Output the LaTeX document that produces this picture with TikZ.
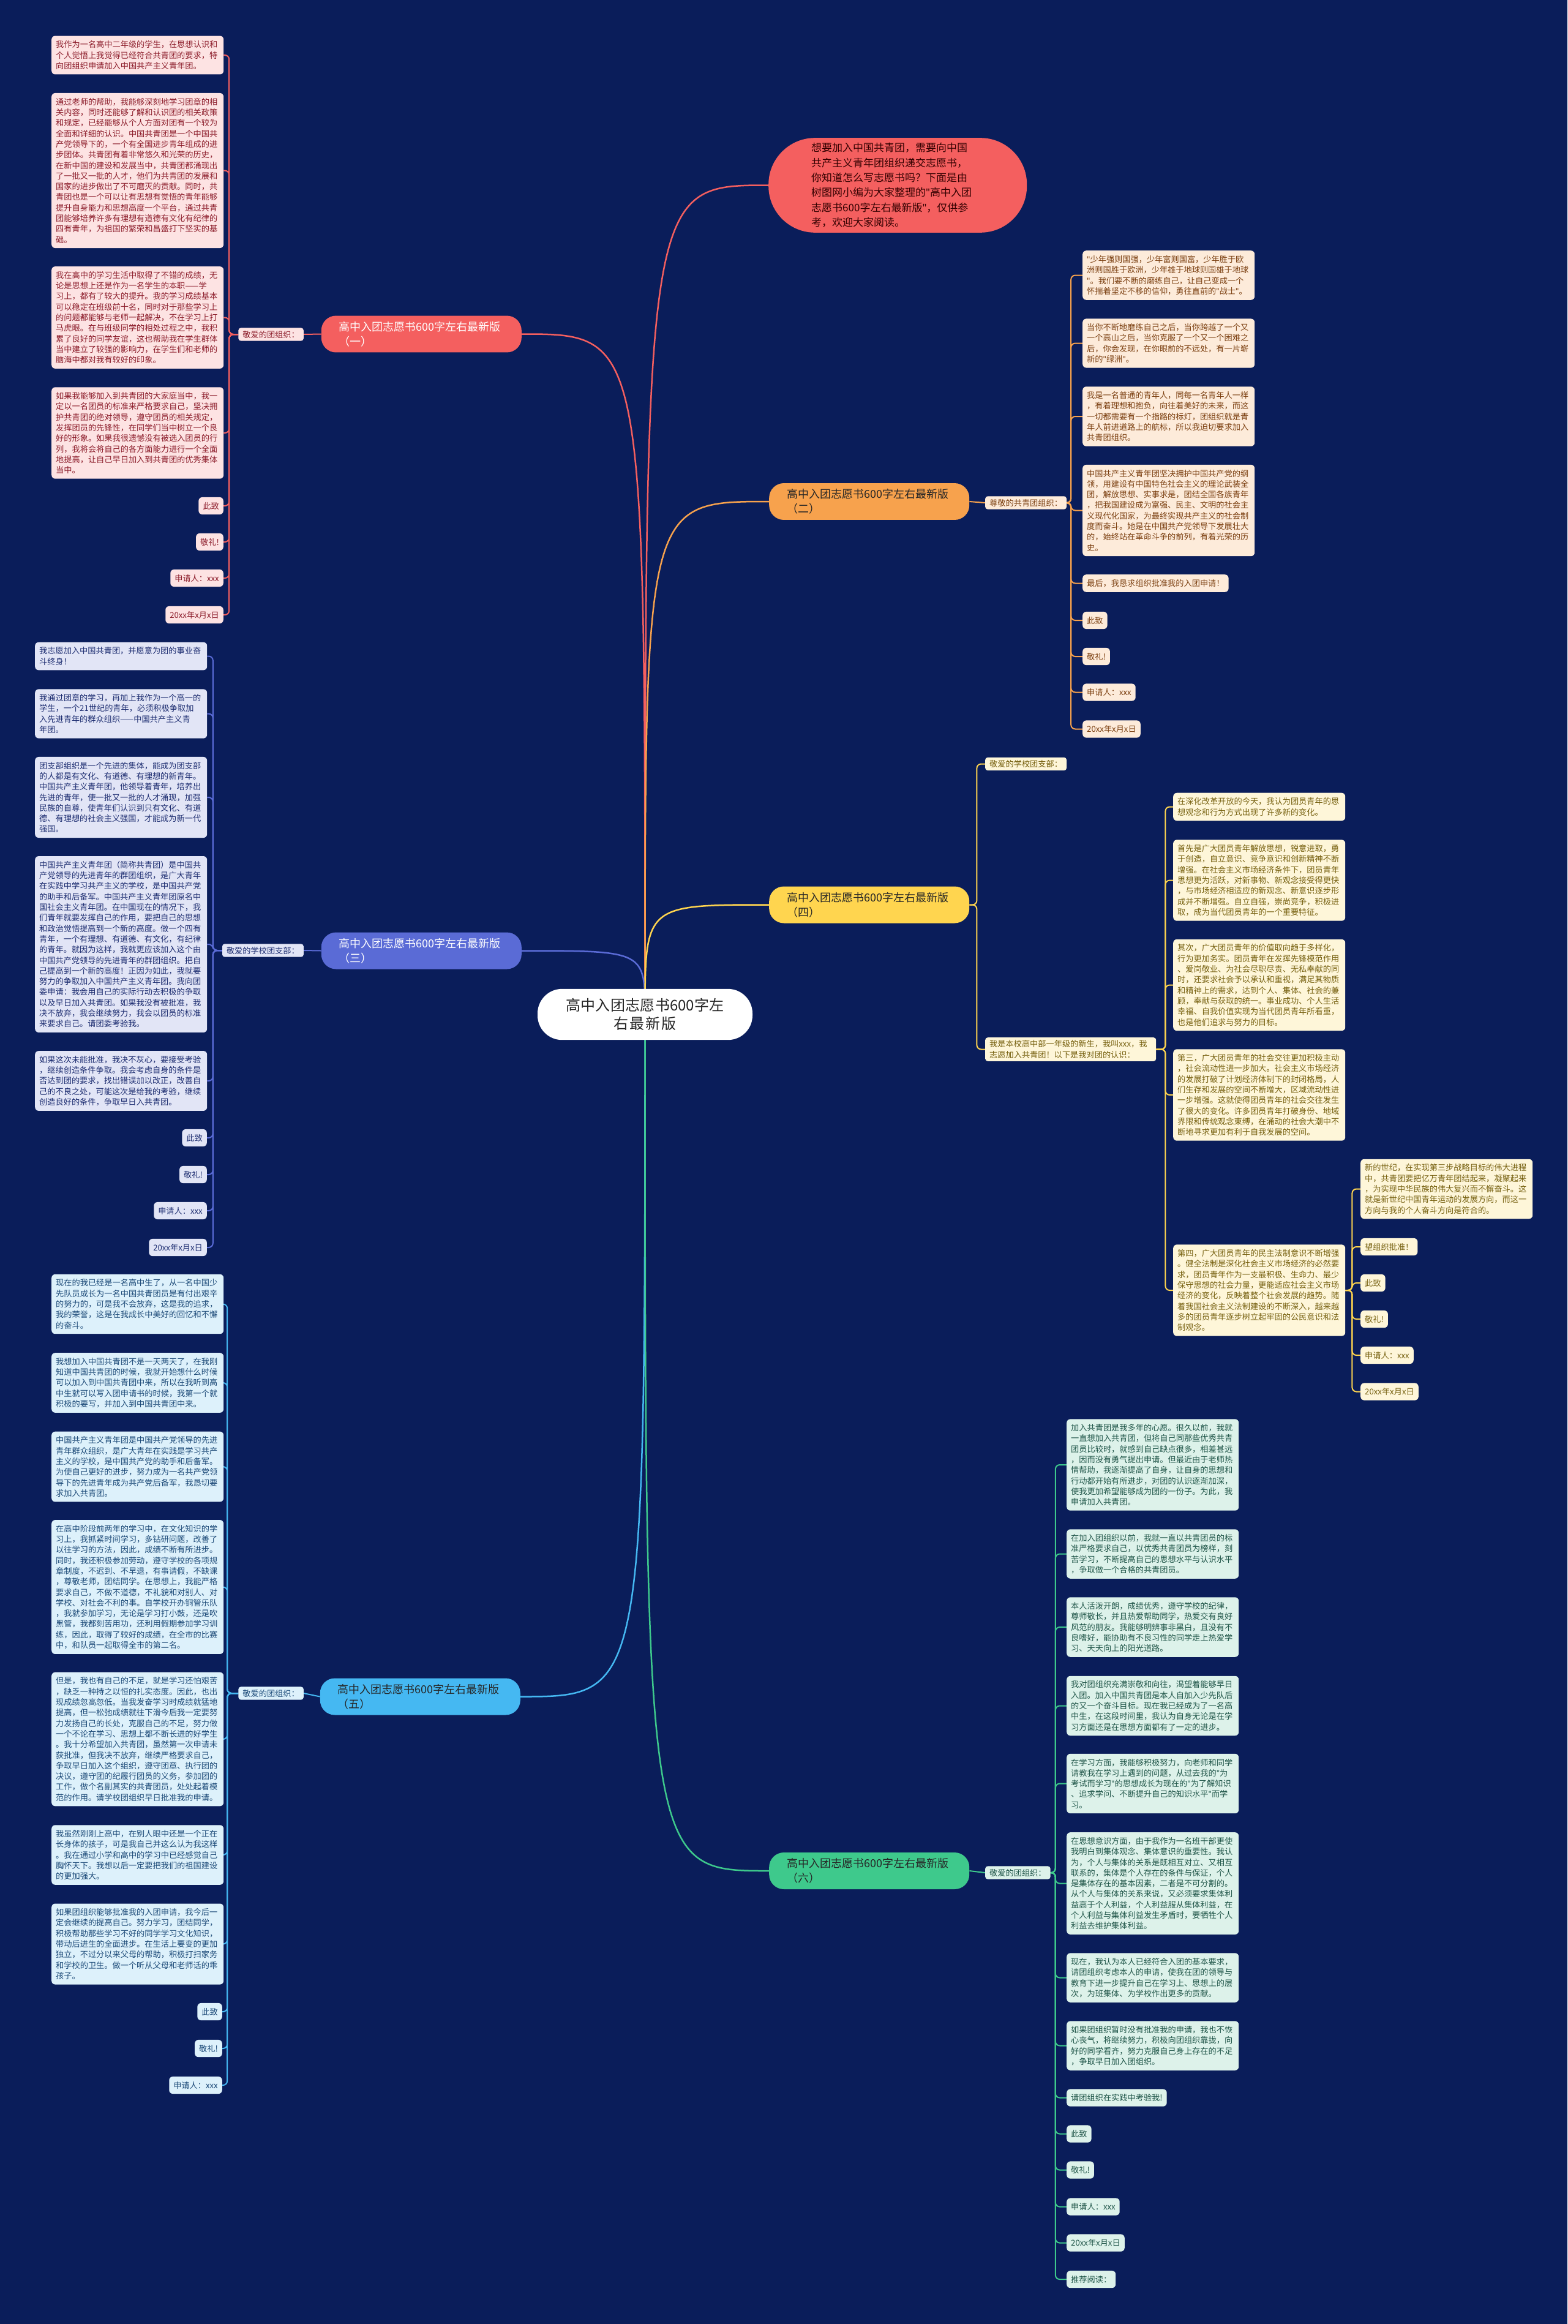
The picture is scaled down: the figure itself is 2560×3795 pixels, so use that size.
\documentclass[tikz,border=0pt]{standalone}
\usepackage{fontspec}
\setmainfont{Noto Sans CJK SC}
\newfontfamily\qfont{Noto Sans}
\newcommand\qq{{\qfont"}}
\XeTeXlinebreaklocale "zh"
\XeTeXlinebreakskip = 0pt plus 1pt
\usetikzlibrary{backgrounds}
\newcommand\fleaf{\fontsize{13.2pt}{17.3pt}\selectfont}
\newcommand\fbranch{\fontsize{18pt}{24pt}\selectfont}
\newcommand\froot{\fontsize{24pt}{30pt}\selectfont}
\newcommand\fintro{\fontsize{17pt}{24.3pt}\selectfont}
\definecolor{cBG}{HTML}{0A1D5A}
\definecolor{cRed}{HTML}{F45F5F}
\definecolor{cOra}{HTML}{F7A24D}
\definecolor{cBlu}{HTML}{5A6BD6}
\definecolor{cYel}{HTML}{FFD54F}
\definecolor{cSky}{HTML}{45B8F2}
\definecolor{cGrn}{HTML}{3EC98C}
\definecolor{pkF}{HTML}{FDE3E3}\definecolor{pkT}{HTML}{8C1C2A}
\definecolor{lvF}{HTML}{E2E5F6}\definecolor{lvT}{HTML}{1C2C70}
\definecolor{peF}{HTML}{FDEBDA}\definecolor{peT}{HTML}{7B3F10}
\definecolor{yeF}{HTML}{FEF6D9}\definecolor{yeT}{HTML}{76600F}
\definecolor{skF}{HTML}{DDF1FB}\definecolor{skT}{HTML}{1C4A78}
\definecolor{mnF}{HTML}{DDF2EA}\definecolor{mnT}{HTML}{1F5548}
\tikzset{
  leaf/.style={rounded corners=6pt, inner xsep=7pt, inner ysep=8pt, align=left, font=\fleaf},
  wide/.style={leaf, text width=267pt},
  lab/.style={rounded corners=4pt, inner xsep=7pt, inner ysep=4.5pt, align=left, font=\fleaf},
  branch/.style={rounded corners=24pt, font=\fbranch, align=left, text width=269pt, inner xsep=29pt, inner ysep=9.5pt},
  pk/.style={fill=pkF, text=pkT},
  lv/.style={fill=lvF, text=lvT},
  pe/.style={fill=peF, text=peT},
  ye/.style={fill=yeF, text=yeT},
  sk/.style={fill=skF, text=skT},
  mn/.style={fill=mnF, text=mnT},
  conn/.style={line width=2pt, rounded corners=7pt},
  curve/.style={line width=2.5pt},
}
\begin{document}
\begin{tikzpicture}[x=1pt,y=-1pt]
\useasboundingbox (0,0) rectangle (2560,3795);
% ---------- root and branches ----------
\node[fill=white, text=black!85, rounded corners=40pt, font=\froot, align=center, text width=290pt, inner xsep=30.5pt, inner ysep=15.5pt] (root) at (1053.5,1656.5) {高中入团志愿书600字左\\右最新版};
\node[fill=cRed, text=black!80!red, rounded corners=76pt, font=\fintro, align=left, text width=282pt, inner xsep=70pt, inner ysep=8.5pt, anchor=west] (intro) at (1255,302.5) {想要加入中国共青团，需要向中国\\共产主义青年团组织递交志愿书，\\你知道怎么写志愿书吗？下面是由\\树图网小编为大家整理的\qq{}高中入团\\志愿书600字左右最新版\qq{}，仅供参\\考，欢迎大家阅读。};
\node[branch, fill=cRed, text=white, anchor=east] (n1) at (852,545.5) {高中入团志愿书600字左右最新版\\（一）};
\node[branch, fill=cOra, text=black!85, anchor=west] (n2) at (1256,819) {高中入团志愿书600字左右最新版\\（二）};
\node[branch, fill=cBlu, text=white, anchor=east] (n3) at (852,1552.5) {高中入团志愿书600字左右最新版\\（三）};
\node[branch, fill=cYel, text=black!85, anchor=west] (n4) at (1256,1477.5) {高中入团志愿书600字左右最新版\\（四）};
\node[branch, fill=cSky, text=black!85, anchor=east] (n5) at (850,2770.5) {高中入团志愿书600字左右最新版\\（五）};
\node[branch, fill=cGrn, text=black!85, anchor=west] (n6) at (1256,3055) {高中入团志愿书600字左右最新版\\（六）};
% ---------- labels ----------
\node[lab, pk, anchor=east] (L1) at (496,546) {敬爱的团组织：};
\node[lab, pe, anchor=west] (L2) at (1609,821) {尊敬的共青团组织：};
\node[lab, lv, anchor=east] (L3) at (496,1552) {敬爱的学校团支部：};
\node[lab, ye, anchor=west] (L4a) at (1609,1247.5) {敬爱的学校团支部：};
\node[lab, ye, anchor=west, text width=265pt] (L4b) at (1609,1713.5) {我是本校高中部一年级的新生，我叫xxx，我\\志愿加入共青团！以下是我对团的认识：};
\node[lab, sk, anchor=east] (L5) at (496,2765) {敬爱的团组织：};
\node[lab, mn, anchor=west] (L6) at (1609,3058) {敬爱的团组织：};
% ---------- (一) ----------
\node[wide, pk, anchor=west] (b1) at (84,90) {我作为一名高中二年级的学生，在思想认识和\\个人觉悟上我觉得已经符合共青团的要求，特\\向团组织申请加入中国共产主义青年团。};
\node[wide, pk, anchor=west] (b2) at (84,278.5) {通过老师的帮助，我能够深刻地学习团章的相\\关内容，同时还能够了解和认识团的相关政策\\和规定，已经能够从个人方面对团有一个较为\\全面和详细的认识。中国共青团是一个中国共\\产党领导下的，一个有全国进步青年组成的进\\步团体。共青团有着非常悠久和光荣的历史，\\在新中国的建设和发展当中，共青团都涌现出\\了一批又一批的人才，他们为共青团的发展和\\国家的进步做出了不可磨灭的贡献。同时，共\\青团也是一个可以让有思想有觉悟的青年能够\\提升自身能力和思想高度一个平台，通过共青\\团能够培养许多有理想有道德有文化有纪律的\\四有青年，为祖国的繁荣和昌盛打下坚实的基\\础。};
\node[wide, pk, anchor=west] (b3) at (84,518.5) {我在高中的学习生活中取得了不错的成绩，无\\论是思想上还是作为一名学生的本职——学\\习上，都有了较大的提升。我的学习成绩基本\\可以稳定在班级前十名，同时对于那些学习上\\的问题都能够与老师一起解决，不在学习上打\\马虎眼。在与班级同学的相处过程之中，我积\\累了良好的同学友谊，这也帮助我在学生群体\\当中建立了较强的影响力，在学生们和老师的\\脑海中都对我有较好的印象。};
\node[wide, pk, anchor=west] (b4) at (84,707) {如果我能够加入到共青团的大家庭当中，我一\\定以一名团员的标准来严格要求自己，坚决拥\\护共青团的绝对领导，遵守团员的相关规定，\\发挥团员的先锋性，在同学们当中树立一个良\\好的形象。如果我很遗憾没有被选入团员的行\\列，我将会将自己的各方面能力进行一个全面\\地提高，让自己早日加入到共青团的优秀集体\\当中。};
\node[leaf, pk, anchor=east] (b5) at (365,826) {此致};
\node[leaf, pk, anchor=east] (b6) at (365,885) {敬礼!};
\node[leaf, pk, anchor=east] (b7) at (365,944) {申请人：xxx};
\node[leaf, pk, anchor=east] (b8) at (365,1004) {20xx年x月x日};
% ---------- (三) ----------
\node[wide, lv, anchor=west] (d1) at (57,1071.5) {我志愿加入中国共青团，并愿意为团的事业奋\\斗终身！};
\node[wide, lv, anchor=west] (d2) at (57,1165.5) {我通过团章的学习，再加上我作为一个高一的\\学生，一个21世纪的青年，必须积极争取加\\入先进青年的群众组织——中国共产主义青\\年团。};
\node[wide, lv, anchor=west] (d3) at (57,1302) {团支部组织是一个先进的集体，能成为团支部\\的人都是有文化、有道德、有理想的新青年。\\中国共产主义青年团，他领导着青年，培养出\\先进的青年，使一批又一批的人才涌现，加强\\民族的自尊，使青年们认识到只有文化、有道\\德、有理想的社会主义强国，才能成为新一代\\强国。};
\node[wide, lv, anchor=west] (d4) at (57,1542) {中国共产主义青年团（简称共青团）是中国共\\产党领导的先进青年的群团组织，是广大青年\\在实践中学习共产主义的学校，是中国共产党\\的助手和后备军。中国共产主义青年团原名中\\国社会主义青年团。在中国现在的情况下，我\\们青年就要发挥自己的作用，要把自己的思想\\和政治觉悟提高到一个新的高度。做一个四有\\青年，一个有理想、有道德、有文化，有纪律\\的青年。就因为这样，我就更应该加入这个由\\中国共产党领导的先进青年的群团组织。把自\\己提高到一个新的高度！正因为如此，我就要\\努力的争取加入中国共产主义青年团。我向团\\委申请：我会用自己的实际行动去积极的争取\\以及早日加入共青团。如果我没有被批准，我\\决不放弃，我会继续努力，我会以团员的标准\\来要求自己。请团委考验我。};
\node[wide, lv, anchor=west] (d5) at (57,1765) {如果这次未能批准，我决不灰心，要接受考验\\，继续创造条件争取。我会考虑自身的条件是\\否达到团的要求，找出错误加以改正，改善自\\己的不良之处，可能这次是给我的考验，继续\\创造良好的条件，争取早日入共青团。};
\node[leaf, lv, anchor=east] (d6) at (338,1858) {此致};
\node[leaf, lv, anchor=east] (d7) at (338,1918) {敬礼!};
\node[leaf, lv, anchor=east] (d8) at (338,1977) {申请人：xxx};
\node[leaf, lv, anchor=east] (d9) at (338,2037) {20xx年x月x日};
% ---------- (五) ----------
\node[wide, sk, anchor=west] (e1) at (84,2129.5) {现在的我已经是一名高中生了，从一名中国少\\先队员成长为一名中国共青团员是有付出艰辛\\的努力的，可是我不会放弃，这是我的追求，\\我的荣誉，这是在我成长中美好的回忆和不懈\\的奋斗。};
\node[wide, sk, anchor=west] (e2) at (84,2258) {我想加入中国共青团不是一天两天了，在我刚\\知道中国共青团的时候，我就开始想什么时候\\可以加入到中国共青团中来，所以在我听到高\\中生就可以写入团申请书的时候，我第一个就\\积极的要写，并加入到中国共青团中来。};
\node[wide, sk, anchor=west] (e3) at (84,2395) {中国共产主义青年团是中国共产党领导的先进\\青年群众组织，是广大青年在实践是学习共产\\主义的学校，是中国共产党的助手和后备军。\\为使自己更好的进步，努力成为一名共产党领\\导下的先进青年成为共产党后备军，我恳切要\\求加入共青团。};
\node[wide, sk, anchor=west] (e4) at (84,2591.5) {在高中阶段前两年的学习中，在文化知识的学\\习上，我抓紧时间学习，多钻研问题，改善了\\以往学习的方法，因此，成绩不断有所进步。\\同时，我还积极参加劳动，遵守学校的各项规\\章制度，不迟到、不早退，有事请假，不缺课\\，尊敬老师，团结同学。在思想上，我能严格\\要求自己，不做不道德，不礼貌和对别人、对\\学校、对社会不利的事。自学校开办铜管乐队\\，我就参加学习，无论是学习打小鼓，还是吹\\黑管，我都刻苦用功，还利用假期参加学习训\\练，因此，取得了较好的成绩，在全市的比赛\\中，和队员一起取得全市的第二名。};
\node[wide, sk, anchor=west] (e5) at (84,2840) {但是，我也有自己的不足，就是学习还怕艰苦\\，缺乏一种持之以恒的扎实态度。因此，也出\\现成绩忽高忽低。当我发奋学习时成绩就猛地\\提高，但一松弛成绩就往下滑今后我一定要努\\力发扬自己的长处，克服自己的不足，努力做\\一个不论在学习、思想上都不断长进的好学生\\。我十分希望加入共青团，虽然第一次申请未\\获批准，但我决不放弃，继续严格要求自己，\\争取早日加入这个组织，遵守团章、执行团的\\决议，遵守团的纪履行团员的义务，参加团的\\工作，做个名副其实的共青团员，处处起着模\\范的作用。请学校团组织早日批准我的申请。};
\node[wide, sk, anchor=west] (e6) at (84,3029) {我虽然刚刚上高中，在别人眼中还是一个正在\\长身体的孩子，可是我自己并这么认为我这样\\。我在通过小学和高中的学习中已经感觉自己\\胸怀天下。我想以后一定要把我们的祖国建设\\的更加强大。};
\node[wide, sk, anchor=west] (e7) at (84,3174.5) {如果团组织能够批准我的入团申请，我今后一\\定会继续的提高自己。努力学习，团结同学，\\积极帮助那些学习不好的同学学习文化知识，\\带动后进生的全面进步。在生活上要变的更加\\独立，不过分以来父母的帮助，积极打扫家务\\和学校的卫生。做一个听从父母和老师话的乖\\孩子。};
\node[leaf, sk, anchor=east] (e8) at (363,3285) {此致};
\node[leaf, sk, anchor=east] (e9) at (363,3345) {敬礼!};
\node[leaf, sk, anchor=east] (e10) at (363,3405) {申请人：xxx};
% ---------- (二) ----------
\node[wide, pe, anchor=west] (c1) at (1768,449.5) {\qq{}少年强则国强，少年富则国富，少年胜于欧\\洲则国胜于欧洲，少年雄于地球则国雄于地球\\\qq{}。我们要不断的磨练自己，让自己变成一个\\怀揣着坚定不移的信仰，勇往直前的\qq{}战士\qq{}。};
\node[wide, pe, anchor=west] (c2) at (1768,560.5) {当你不断地磨练自己之后，当你跨越了一个又\\一个高山之后，当你克服了一个又一个困难之\\后，你会发现，在你眼前的不远处，有一片崭\\新的\qq{}绿洲\qq{}。};
\node[wide, pe, anchor=west] (c3) at (1768,680) {我是一名普通的青年人，同每一名青年人一样\\，有着理想和抱负，向往着美好的未来，而这\\一切都需要有一个指路的标灯，团组织就是青\\年人前进道路上的航标，所以我迫切要求加入\\共青团组织。};
\node[wide, pe, anchor=west] (c4) at (1768,833.5) {中国共产主义青年团坚决拥护中国共产党的纲\\领，用建设有中国特色社会主义的理论武装全\\团，解放思想、实事求是，团结全国各族青年\\，把我国建设成为富强、民主、文明的社会主\\义现代化国家，为最终实现共产主义的社会制\\度而奋斗。她是在中国共产党领导下发展壮大\\的，始终站在革命斗争的前列，有着光荣的历\\史。};
\node[leaf, pe, anchor=west] (c5) at (1768,952.5) {最后，我恳求组织批准我的入团申请！};
\node[leaf, pe, anchor=west] (c6) at (1768,1013) {此致};
\node[leaf, pe, anchor=west] (c7) at (1768,1072) {敬礼!};
\node[leaf, pe, anchor=west] (c8) at (1768,1130.5) {申请人：xxx};
\node[leaf, pe, anchor=west] (c9) at (1768,1190.5) {20xx年x月x日};
% ---------- (四) ----------
\node[wide, ye, anchor=west] (g1) at (1916,1317.5) {在深化改革开放的今天，我认为团员青年的思\\想观念和行为方式出现了许多新的变化。};
\node[wide, ye, anchor=west] (g2) at (1916,1437.5) {首先是广大团员青年解放思想，锐意进取，勇\\于创造，自立意识、竞争意识和创新精神不断\\增强。在社会主义市场经济条件下，团员青年\\思想更为活跃，对新事物、新观念接受得更快\\，与市场经济相适应的新观念、新意识逐步形\\成并不断增强。自立自强，崇尚竞争，积极进\\取，成为当代团员青年的一个重要特征。};
\node[wide, ye, anchor=west] (g3) at (1916,1608.5) {其次，广大团员青年的价值取向趋于多样化，\\行为更加务实。团员青年在发挥先锋模范作用\\、爱岗敬业、为社会尽职尽责、无私奉献的同\\时，还要求社会予以承认和重视，满足其物质\\和精神上的需求，达到个人、集体、社会的兼\\顾，奉献与获取的统一。事业成功、个人生活\\幸福、自我价值实现为当代团员青年所看重，\\也是他们追求与努力的目标。};
\node[wide, ye, anchor=west] (g4) at (1916,1788) {第三，广大团员青年的社会交往更加积极主动\\，社会流动性进一步加大。社会主义市场经济\\的发展打破了计划经济体制下的封闭格局，人\\们生存和发展的空间不断增大，区域流动性进\\一步增强。这就使得团员青年的社会交往发生\\了很大的变化。许多团员青年打破身份、地域\\界限和传统观念束缚，在涌动的社会大潮中不\\断地寻求更加有利于自我发展的空间。};
\node[wide, ye, anchor=west] (g5) at (1916,2107) {第四，广大团员青年的民主法制意识不断增强\\。健全法制是深化社会主义市场经济的必然要\\求，团员青年作为一支最积极、生命力、最少\\保守思想的社会力量，更能适应社会主义市场\\经济的变化，反映着整个社会发展的趋势。随\\着我国社会主义法制建设的不断深入，越来越\\多的团员青年逐步树立起牢固的公民意识和法\\制观念。};
\node[wide, ye, anchor=west] (h1) at (2222,1941.5) {新的世纪，在实现第三步战略目标的伟大进程\\中，共青团要把亿万青年团结起来，凝聚起来\\，为实现中华民族的伟大复兴而不懈奋斗。这\\就是新世纪中国青年运动的发展方向，而这一\\方向与我的个人奋斗方向是符合的。};
\node[leaf, ye, anchor=west] (h2) at (2222,2036) {望组织批准！};
\node[leaf, ye, anchor=west] (h3) at (2222,2095) {此致};
\node[leaf, ye, anchor=west] (h4) at (2222,2154) {敬礼!};
\node[leaf, ye, anchor=west] (h5) at (2222,2213) {申请人：xxx};
\node[leaf, ye, anchor=west] (h6) at (2222,2272.5) {20xx年x月x日};
% ---------- (六) ----------
\node[wide, mn, anchor=west] (f1) at (1742,2392) {加入共青团是我多年的心愿。很久以前，我就\\一直想加入共青团，但将自己同那些优秀共青\\团员比较时，就感到自己缺点很多，相差甚远\\，因而没有勇气提出申请。但最近由于老师热\\情帮助，我逐渐提高了自身，让自身的思想和\\行动都开始有所进步，对团的认识逐渐加深，\\使我更加希望能够成为团的一份子。为此，我\\申请加入共青团。};
\node[wide, mn, anchor=west] (f2) at (1742,2537.5) {在加入团组织以前，我就一直以共青团员的标\\准严格要求自己，以优秀共青团员为榜样，刻\\苦学习，不断提高自己的思想水平与认识水平\\，争取做一个合格的共青团员。};
\node[wide, mn, anchor=west] (f3) at (1742,2657) {本人活泼开朗，成绩优秀，遵守学校的纪律，\\尊师敬长，并且热爱帮助同学，热爱交有良好\\风范的朋友。我能够明辨事非黑白，且没有不\\良嗜好，能协助有不良习性的同学走上热爱学\\习、天天向上的阳光道路。};
\node[wide, mn, anchor=west] (f4) at (1742,2785.5) {我对团组织充满崇敬和向往，渴望着能够早日\\入团。加入中国共青团是本人自加入少先队后\\的又一个奋斗目标。现在我已经成为了一名高\\中生，在这段时间里，我认为自身无论是在学\\习方面还是在思想方面都有了一定的进步。};
\node[wide, mn, anchor=west] (f5) at (1742,2912.5) {在学习方面，我能够积极努力，向老师和同学\\请教我在学习上遇到的问题，从过去我的\qq{}为\\考试而学习\qq{}的思想成长为现在的\qq{}为了解知识\\、追求学问、不断提升自己的知识水平\qq{}而学\\习。};
\node[wide, mn, anchor=west] (f6) at (1742,3075.5) {在思想意识方面，由于我作为一名班干部更使\\我明白到集体观念、集体意识的重要性。我认\\为，个人与集体的关系是既相互对立、又相互\\联系的，集体是个人存在的条件与保证，个人\\是集体存在的基本因素，二者是不可分割的。\\从个人与集体的关系来说，又必须要求集体利\\益高于个人利益，个人利益服从集体利益，在\\个人利益与集体利益发生矛盾时，要牺牲个人\\利益去维护集体利益。};
\node[wide, mn, anchor=west] (f7) at (1742,3229.5) {现在，我认为本人已经符合入团的基本要求，\\请团组织考虑本人的申请，使我在团的领导与\\教育下进一步提升自己在学习上、思想上的层\\次，为班集体、为学校作出更多的贡献。};
\node[wide, mn, anchor=west] (f8) at (1742,3340.5) {如果团组织暂时没有批准我的申请，我也不恢\\心丧气，将继续努力，积极向团组织靠拢，向\\好的同学看齐，努力克服自己身上存在的不足\\，争取早日加入团组织。};
\node[leaf, mn, anchor=west] (f9) at (1742,3425.5) {请团组织在实践中考验我!};
\node[leaf, mn, anchor=west] (f10) at (1742,3484.5) {此致};
\node[leaf, mn, anchor=west] (f11) at (1742,3543.5) {敬礼!};
\node[leaf, mn, anchor=west] (f12) at (1742,3603.5) {申请人：xxx};
\node[leaf, mn, anchor=west] (f13) at (1742,3662.5) {20xx年x月x日};
\node[leaf, mn, anchor=west] (f14) at (1742,3722) {推荐阅读：};
% ---------- connectors ----------
\begin{pgfonlayer}{background}
\fill[cBG] (0,0) rectangle (2560,3795);
\draw[curve, cRed] (root.center) .. controls (root.center |- intro.west) .. (intro.west);
\draw[curve, cRed] (root.center) .. controls (root.center |- n1.east) .. (n1.east);
\draw[curve, cOra] (root.center) .. controls (root.center |- n2.west) .. (n2.west);
\draw[curve, cBlu] (root.center) .. controls (root.center |- n3.east) .. (n3.east);
\draw[curve, cYel] (root.center) .. controls (root.center |- n4.west) .. (n4.west);
\draw[curve, cSky] (root.center) .. controls (root.center |- n5.east) .. (n5.east);
\draw[curve, cGrn] (root.center) .. controls (root.center |- n6.west) .. (n6.west);
\draw[conn, cRed] (n1.west) -- (L1.east);
\draw[conn, cOra] (n2.east) -- (L2.west);
\draw[conn, cBlu] (n3.west) -- (L3.east);
\draw[conn, cSky] (n5.west) -- (L5.east);
\draw[conn, cGrn] (n6.east) -- (L6.west);
\foreach \c in {b1,b2,b3,b4,b5,b6,b7,b8} \draw[conn, cRed] (L1.west) -- ++(-15,0) |- (\c.east);
\foreach \c in {d1,d2,d3,d4,d5,d6,d7,d8,d9} \draw[conn, cBlu] (L3.west) -- ++(-15,0) |- (\c.east);
\foreach \c in {e1,e2,e3,e4,e5,e6,e7,e8,e9,e10} \draw[conn, cSky] (L5.west) -- ++(-18,0) |- (\c.east);
\foreach \c in {c1,c2,c3,c4,c5,c6,c7,c8,c9} \draw[conn, cOra] (L2.east) -- ++(7,0) |- (\c.west);
\foreach \c in {L4a,L4b} \draw[conn, cYel] (n4.east) -- ++(12,0) |- (\c.west);
\foreach \c in {g1,g2,g3,g4,g5} \draw[conn, cYel] (L4b.east) -- ++(15,0) |- (\c.west);
\foreach \c in {h1,h2,h3,h4,h5,h6} \draw[conn, cYel] (g5.east) -- ++(11,0) |- (\c.west);
\foreach \c in {f1,f2,f3,f4,f5,f6,f7,f8,f9,f10,f11,f12,f13,f14} \draw[conn, cGrn] (L6.east) -- ++(8,0) |- (\c.west);
\end{pgfonlayer}
\end{tikzpicture}
\end{document}
